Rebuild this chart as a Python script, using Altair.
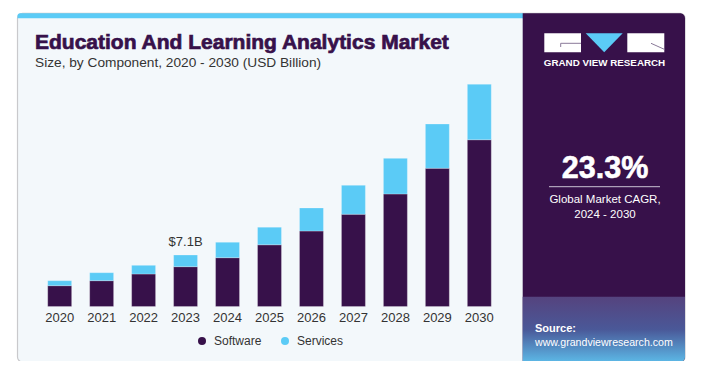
import altair as alt
import pandas as pd

years = ["2020", "2021", "2022", "2023", "2024", "2025", "2026", "2027", "2028", "2029", "2030"]
software = [2.87, 3.56, 4.48, 5.49, 6.73, 8.51, 10.41, 12.72, 15.52, 19.06, 23.00]
services = [0.69, 1.10, 1.20, 1.61, 2.13, 2.43, 3.18, 4.00, 4.92, 6.11, 7.65]
segments = ["Software", "Services"]
seg_colors = ["#37114a", "#5bcbf6"]
label_year = "2023"
label_text = "$7.1B"

PURPLE = "#37114a"
FONT = "Liberation Sans"

rows = []
for i, y in enumerate(years):
    rows.append({"year": y, "segment": "Software", "value": software[i], "ord": 0})
    rows.append({"year": y, "segment": "Services", "value": services[i], "ord": 1})
df = pd.DataFrame(rows)

totals = pd.DataFrame({"year": years, "total": [a + b for a, b in zip(software, services)]})
lab_df = totals[totals["year"] == label_year].assign(text=label_text)

xscale = alt.Scale(domain=years, range=[30.7, 492.3], paddingInner=0.43, paddingOuter=0.215)
yscale = alt.Scale(domain=[0, 40], range=[298.5, 8.5], nice=False, zero=True)

one = pd.DataFrame({"a": [0]})

# ---- decorative card ----
card = alt.Chart(one).mark_rect(
    fill="#f3f8fb", stroke="#c9c9cc", strokeWidth=1.2, cornerRadius=5
).encode(x=alt.value(9.5), x2=alt.value(677), y=alt.value(5.3), y2=alt.value(354))

strip = alt.Chart(one).mark_rect(
    fill="#5bcbf6", cornerRadiusTopLeft=5
).encode(x=alt.value(9.5), x2=alt.value(515), y=alt.value(5.3), y2=alt.value(10.3))

panel = alt.Chart(one).mark_rect(
    fill=PURPLE, cornerRadiusTopRight=5, cornerRadiusBottomRight=5
).encode(x=alt.value(514.7), x2=alt.value(677), y=alt.value(5.3), y2=alt.value(354))

grad = alt.Chart(one).mark_rect(
    fill=alt.Gradient(
        gradient="linear", x1=0, x2=0, y1=0, y2=1,
        stops=[alt.GradientStop(color="#55437e", offset=0),
               alt.GradientStop(color="#4a5898", offset=0.5),
               alt.GradientStop(color="#5cb8e6", offset=1)]),
    cornerRadiusBottomRight=5
).encode(x=alt.value(514.7), x2=alt.value(677), y=alt.value(288.7), y2=alt.value(354))

# logo
logo_l = alt.Chart(one).mark_rect(fill="white").encode(
    x=alt.value(536.3), x2=alt.value(573), y=alt.value(25.3), y2=alt.value(44.3))
logo_r = alt.Chart(one).mark_rect(fill="white").encode(
    x=alt.value(619.3), x2=alt.value(656.3), y=alt.value(25.3), y2=alt.value(44.3))
logo_t = alt.Chart(one).mark_point(
    shape="M-1,-0.514L1,-0.514L0,0.514Z", filled=True, fill="#5bcbf6", size=1369, opacity=1, strokeWidth=0
).encode(x=alt.value(596.2), y=alt.value(34.8))
g1 = alt.Chart(one).mark_rule(color="#8a7a99", strokeWidth=1).encode(
    x=alt.value(552.7), x2=alt.value(573), y=alt.value(35.3), y2=alt.value(35.3))
g2 = alt.Chart(one).mark_rule(color="#8a7a99", strokeWidth=1).encode(
    x=alt.value(552.7), x2=alt.value(552.7), y=alt.value(35.3), y2=alt.value(39))
r1 = alt.Chart(one).mark_rule(color="#8a7a99", strokeWidth=1).encode(
    x=alt.value(643), x2=alt.value(656.3), y=alt.value(35.3), y2=alt.value(41.3))

def txt(text, x, y, size, color="white", weight="normal", align="center", font=FONT, stroke=None, sw=0):
    kw = dict(text=text, fontSize=size, color=color, fontWeight=weight, align=align,
              font=font, baseline="alphabetic")
    if stroke:
        kw.update(stroke=stroke, strokeWidth=sw)
    return alt.Chart(one).mark_text(**kw).encode(x=alt.value(x), y=alt.value(y))

gvr = txt("GRAND VIEW RESEARCH", 596.5, 58, 9.8, weight="bold")
cagr = txt("23.3%", 597, 169.7, 30.5, weight="bold", stroke="white", sw=0.6)
cagr_line = alt.Chart(one).mark_rule(color="#c9c2d2", strokeWidth=1).encode(
    x=alt.value(541), x2=alt.value(652), y=alt.value(178.7), y2=alt.value(178.7))
cagr1 = txt("Global Market CAGR,", 597, 194.7, 11.5)
cagr2 = txt("2024 - 2030", 597, 209.5, 11.5)
src1 = txt("Source:", 527, 324, 11, weight="bold", align="left")
src2 = txt("www.grandviewresearch.com", 527, 337.5, 10.6, align="left")

title = txt("Education And Learning Analytics Market", 27, 41, 21, color=PURPLE,
            weight="bold", align="left", stroke=PURPLE, sw=0.7)
subtitle = txt("Size, by Component, 2020 - 2030 (USD Billion)", 27, 59, 13.7, color="#333333", align="left")

# ---- bars ----
bars = alt.Chart(df).mark_bar(stroke="#ffffff", strokeOpacity=0.3, strokeWidth=0.8).encode(
    x=alt.X("year:N", scale=xscale, sort=years,
            axis=alt.Axis(title=None, domain=False, ticks=False, labelFontSize=13,
                          labelColor="#333333", labelPadding=5, offset=0, zindex=1,
                          labelFont=FONT, labelAngle=0)),
    y=alt.Y("value:Q", scale=yscale, stack="zero", axis=None),
    color=alt.Color("segment:N", scale=alt.Scale(domain=segments, range=seg_colors),
                    legend=alt.Legend(orient="none", legendX=188, legendY=327,
                                      direction="horizontal", title=None,
                                      symbolType="circle", symbolSize=64,
                                      symbolStrokeWidth=0, labelFontSize=12,
                                      labelFont=FONT, labelColor="#333333",
                                      labelOffset=6, columnPadding=17)),
    order=alt.Order("ord:Q"),
)

lab = alt.Chart(lab_df).mark_text(fontSize=13, font=FONT, color="#333333", dy=-9,
                                   baseline="alphabetic").encode(
    x=alt.X("year:N", scale=xscale, sort=years),
    y=alt.Y("total:Q", scale=yscale),
    text="text:N",
)

chart = alt.layer(
    card, strip, panel, grad, logo_l, logo_r, logo_t, g1, g2, r1,
    gvr, cagr, cagr_line, cagr1, cagr2, src1, src2, title, subtitle,
    bars, lab
).properties(
    width=701, height=298.5,
    padding={"left": 0, "top": 0, "right": 0, "bottom": 54.5},
    autosize=alt.AutoSizeParams(type="none"),
    background="white",
).configure_view(strokeWidth=0)

chart.save("out.html", embed_options={"renderer": "svg", "actions": False})
